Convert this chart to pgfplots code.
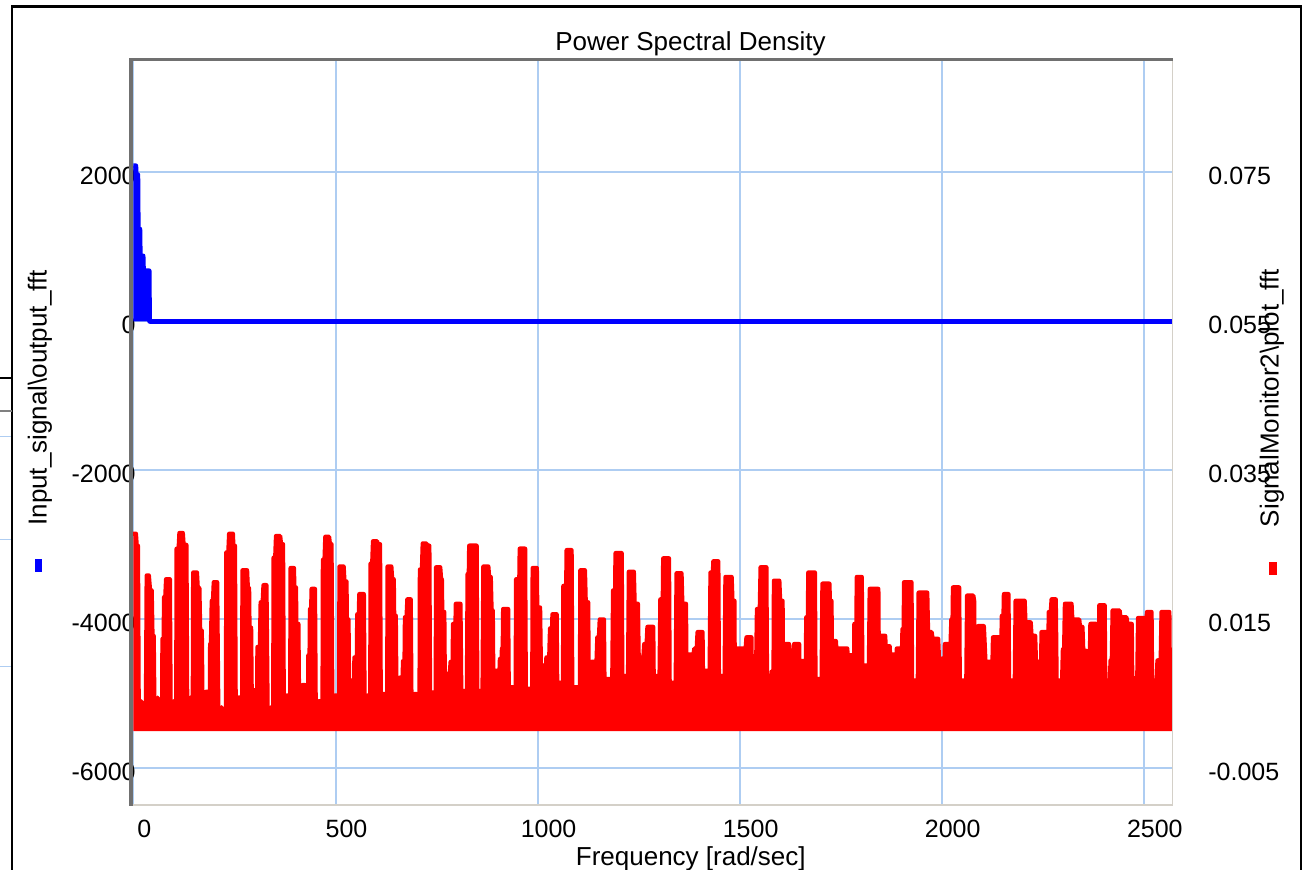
\documentclass[border=0pt]{standalone}
\usepackage{pgfplots}
\pgfplotsset{compat=1.18}
\usepackage{pgfplotstable}
\usepackage{fontspec}
\setmainfont{Liberation Sans}
\definecolor{gridblue}{RGB}{174,205,242}
\definecolor{spinedark}{RGB}{112,112,112}
\definecolor{spinelight}{RGB}{212,208,200}
\definecolor{sigblue}{RGB}{0,0,255}
\definecolor{sigred}{RGB}{255,0,0}

\pgfplotstableread{
x y
0 2090
6 2090
7 1970
11 1970
12 1240
16 1240
17 880
24 880
25 680
39 680
40 0
2575 0
}\bluetable

\pgfplotstableread{
x y
0 0.0265
6 0.0265
8 0.0249
11 0.0249
13 0.0020
16 0.0026
20 0.0040
24 0.0020
28 0.0026
31 0.0020
33 0.0209
38 0.0209
41 0.0189
45 0.0189
47 0.0128
50 0.0128
52 0.0020
56 0.0026
60 0.0045
64 0.0020
67 0.0030
71 0.0020
72 0.0124
75 0.0124
76 0.0180
79 0.0180
81 0.0204
90 0.0204
92 0.0020
95 0.0026
99 0.0040
102 0.0020
105 0.0025
106 0.0020
107 0.0245
112 0.0245
114 0.0266
122 0.0266
124 0.0250
131 0.0250
133 0.0020
137 0.0026
141 0.0045
145 0.0020
147 0.0020
148 0.0213
157 0.0213
159 0.0192
163 0.0192
165 0.0135
169 0.0135
171 0.0020
174 0.0026
177 0.0020
180 0.0053
185 0.0053
187 0.0020
189 0.0020
190 0.0117
192 0.0117
194 0.0175
197 0.0175
199 0.0200
207 0.0200
210 0.0020
214 0.0026
218 0.0032
222 0.0020
226 0.0030
229 0.0020
230 0.0240
235 0.0240
237 0.0265
246 0.0265
247 0.0249
251 0.0249
253 0.0020
256 0.0026
260 0.0045
264 0.0045
267 0.0020
269 0.0020
270 0.0216
281 0.0216
283 0.0192
286 0.0192
287 0.0139
291 0.0139
293 0.0020
296 0.0026
299 0.0055
304 0.0055
306 0.0020
307 0.0113
313 0.0113
315 0.0173
320 0.0173
322 0.0196
329 0.0196
332 0.0020
336 0.0026
340 0.0032
344 0.0020
346 0.0020
347 0.0233
351 0.0233
353 0.0262
363 0.0262
365 0.0251
370 0.0251
372 0.0020
375 0.0026
379 0.0048
383 0.0048
386 0.0020
388 0.0020
389 0.0219
397 0.0219
398 0.0193
402 0.0193
403 0.0144
408 0.0144
410 0.0020
413 0.0026
416 0.0020
419 0.0062
424 0.0062
426 0.0020
432 0.0020
433 0.0102
436 0.0102
437 0.0164
440 0.0164
441 0.0191
449 0.0191
451 0.0020
454 0.0026
458 0.0040
462 0.0040
465 0.0020
468 0.0020
469 0.0230
473 0.0230
475 0.0261
484 0.0261
486 0.0251
490 0.0251
492 0.0020
495 0.0026
499 0.0048
503 0.0048
506 0.0020
509 0.0020
510 0.0221
520 0.0221
522 0.0201
527 0.0201
528 0.0150
532 0.0150
534 0.0020
537 0.0026
539 0.0068
543 0.0068
545 0.0020
547 0.0099
553 0.0099
554 0.0157
558 0.0157
559 0.0184
570 0.0184
572 0.0020
576 0.0026
580 0.0048
583 0.0020
586 0.0020
587 0.0225
591 0.0225
593 0.0255
603 0.0255
604 0.0251
610 0.0251
612 0.0020
615 0.0026
619 0.0050
623 0.0050
626 0.0020
628 0.0020
629 0.0221
638 0.0221
640 0.0204
644 0.0204
645 0.0155
649 0.0155
651 0.0020
654 0.0026
657 0.0020
660 0.0072
664 0.0072
666 0.0020
667 0.0094
671 0.0094
672 0.0153
676 0.0153
678 0.0177
686 0.0177
688 0.0020
692 0.0026
696 0.0050
700 0.0050
703 0.0020
708 0.0020
709 0.0217
714 0.0217
716 0.0252
725 0.0252
726 0.0249
732 0.0249
734 0.0020
737 0.0026
741 0.0052
745 0.0052
748 0.0020
749 0.0220
759 0.0220
761 0.0204
763 0.0204
764 0.0160
769 0.0160
771 0.0020
774 0.0077
783 0.0077
785 0.0093
790 0.0093
791 0.0144
797 0.0144
798 0.0171
809 0.0171
811 0.0054
823 0.0054
825 0.0020
827 0.0211
830 0.0211
831 0.0249
849 0.0249
851 0.0020
853 0.0054
864 0.0054
866 0.0221
878 0.0221
880 0.0207
884 0.0207
886 0.0162
889 0.0162
891 0.0020
892 0.0081
906 0.0081
907 0.0097
911 0.0097
912 0.0111
914 0.0111
915 0.0164
927 0.0164
929 0.0020
931 0.0059
946 0.0059
947 0.0204
955 0.0204
956 0.0245
969 0.0245
971 0.0020
974 0.0057
987 0.0057
988 0.0219
998 0.0219
999 0.0166
1006 0.0166
1008 0.0088
1021 0.0088
1022 0.0099
1029 0.0099
1031 0.0138
1036 0.0138
1037 0.0157
1047 0.0157
1049 0.0020
1051 0.0065
1063 0.0065
1064 0.0195
1071 0.0195
1072 0.0243
1084 0.0243
1086 0.0020
1092 0.0059
1105 0.0059
1106 0.0216
1117 0.0216
1119 0.0173
1125 0.0173
1127 0.0020
1133 0.0093
1146 0.0093
1148 0.0126
1152 0.0126
1154 0.0150
1164 0.0150
1166 0.0020
1170 0.0070
1185 0.0070
1187 0.0189
1192 0.0189
1193 0.0239
1208 0.0239
1210 0.0020
1213 0.0074
1224 0.0074
1226 0.0214
1238 0.0214
1240 0.0171
1248 0.0171
1250 0.0099
1262 0.0099
1264 0.0117
1270 0.0117
1272 0.0140
1286 0.0140
1288 0.0020
1290 0.0074
1302 0.0074
1304 0.0177
1310 0.0177
1311 0.0232
1325 0.0232
1327 0.0020
1331 0.0065
1342 0.0065
1344 0.0212
1356 0.0212
1358 0.0171
1367 0.0171
1369 0.0020
1372 0.0103
1386 0.0103
1388 0.0111
1394 0.0111
1396 0.0133
1408 0.0133
1410 0.0020
1412 0.0081
1426 0.0081
1428 0.0213
1434 0.0213
1435 0.0228
1447 0.0228
1449 0.0020
1451 0.0074
1463 0.0074
1465 0.0207
1480 0.0207
1482 0.0175
1487 0.0175
1488 0.0020
1490 0.0111
1515 0.0111
1517 0.0126
1529 0.0126
1531 0.0020
1532 0.0088
1541 0.0088
1543 0.0164
1550 0.0164
1552 0.0220
1566 0.0220
1568 0.0020
1569 0.0070
1578 0.0070
1580 0.0081
1584 0.0081
1585 0.0202
1598 0.0202
1600 0.0175
1606 0.0175
1608 0.0020
1610 0.0117
1622 0.0117
1623 0.0108
1634 0.0108
1635 0.0117
1647 0.0117
1649 0.0020
1651 0.0094
1664 0.0094
1665 0.0153
1669 0.0153
1670 0.0213
1686 0.0213
1688 0.0020
1690 0.0070
1703 0.0070
1705 0.0198
1722 0.0198
1723 0.0175
1727 0.0175
1728 0.0121
1738 0.0121
1739 0.0111
1766 0.0111
1767 0.0102
1781 0.0102
1783 0.0020
1784 0.0144
1789 0.0144
1790 0.0207
1802 0.0207
1804 0.0020
1807 0.0088
1820 0.0088
1822 0.0191
1843 0.0191
1845 0.0020
1848 0.0128
1860 0.0128
1861 0.0114
1871 0.0114
1872 0.0103
1884 0.0103
1886 0.0020
1889 0.0111
1902 0.0111
1903 0.0137
1906 0.0137
1907 0.0200
1925 0.0200
1927 0.0020
1929 0.0068
1941 0.0068
1943 0.0186
1964 0.0186
1966 0.0133
1975 0.0133
1977 0.0124
1991 0.0124
1993 0.0097
2002 0.0097
2004 0.0020
2008 0.0117
2022 0.0117
2024 0.0150
2027 0.0150
2028 0.0193
2043 0.0193
2045 0.0020
2049 0.0068
2061 0.0068
2063 0.0182
2078 0.0182
2080 0.0175
2082 0.0020
2090 0.0141
2104 0.0141
2106 0.0118
2108 0.0093
2121 0.0093
2123 0.0020
2127 0.0126
2142 0.0126
2144 0.0020
2149 0.0155
2153 0.0155
2154 0.0184
2165 0.0184
2167 0.0020
2169 0.0068
2181 0.0068
2183 0.0175
2205 0.0175
2207 0.0146
2220 0.0146
2222 0.0128
2231 0.0128
2233 0.0093
2243 0.0093
2245 0.0020
2247 0.0133
2259 0.0133
2261 0.0068
2263 0.0068
2265 0.0160
2270 0.0160
2272 0.0177
2282 0.0177
2285 0.0020
2288 0.0068
2298 0.0068
2300 0.0110
2303 0.0110
2305 0.0171
2321 0.0171
2323 0.0150
2340 0.0150
2342 0.0140
2348 0.0140
2350 0.0108
2357 0.0108
2359 0.0020
2360 0.0074
2366 0.0074
2368 0.0144
2381 0.0144
2383 0.0020
2385 0.0068
2388 0.0068
2390 0.0169
2403 0.0169
2405 0.0020
2408 0.0068
2416 0.0068
2418 0.0095
2421 0.0095
2423 0.0162
2440 0.0162
2442 0.0153
2457 0.0153
2459 0.0144
2470 0.0144
2472 0.0020
2474 0.0071
2484 0.0071
2486 0.0152
2500 0.0152
2502 0.0137
2506 0.0137
2508 0.0160
2519 0.0160
2521 0.0020
2524 0.0068
2532 0.0068
2534 0.0095
2542 0.0095
2544 0.0160
2563 0.0160
2565 0.0020
2575 0.0020
}\redtable

\begin{document}
\begin{tikzpicture}[x=0.5pt,y=0.5pt]
\useasboundingbox (0,0) rectangle (1307,870);

% outer window frame fragments
\draw[black, line width=1.3pt] (12,-5) -- (12,863.3) -- (1301,863.3) -- (1301,-5);
\draw[black, line width=1pt] (0,492) -- (12,492);
\draw[gray, line width=1pt] (0,459) -- (12,459);
\draw[gridblue, line width=0.5pt] (0,433) -- (11,433);
\draw[gridblue, line width=0.5pt] (0,330) -- (11,330);
\draw[gridblue, line width=0.5pt] (0,203) -- (11,203);

\begin{axis}[
  at={(65.5pt,32.5pt)}, anchor=south west,
  width=520.75pt, height=372.65pt, scale only axis,
  xmin=-6, xmax=2571, ymin=-6490, ymax=3513,
  xtick={0,500,1000,1500,2000,2500},
  xticklabels={0,500,1000,1500,2000,2500},
  ytick={-6000,-4000,-2000,0,2000},
  yticklabels={-6000,-4000,-2000,0,2000},
  scaled ticks=false,
  major tick length=0pt,
  grid=major, major grid style={gridblue, line width=1pt},
  axis line style={draw=none},
  tick label style={font=\fontsize{12.5}{14}\selectfont},
  xticklabel style={anchor=north, inner sep=0pt, yshift=-7.5pt, xshift=5.5pt},
  yticklabel style={anchor=east, inner sep=0pt, xshift=2.5pt, yshift=-1.5pt},
]
\addplot[draw=none, fill=sigblue] table {\bluetable} \closedcycle;
\addplot[sigblue, line width=2.35pt, line join=round] table {\bluetable};
\end{axis}

\begin{axis}[
  at={(65.5pt,32.5pt)}, anchor=south west,
  width=520.75pt, height=372.65pt, scale only axis,
  xmin=-6, xmax=2571, ymin=-0.0099, ymax=0.09013,
  hide x axis, xtick=\empty,
  xmajorgrids=false, ymajorgrids=false,
  axis y line*=right,
  axis line style={draw=none},
  ytick={-0.005,0.015,0.035,0.055,0.075},
  yticklabels={-0.005,0.015,0.035,0.055,0.075},
  scaled ticks=false,
  major tick length=0pt,
  tick label style={font=\fontsize{12.5}{14}\selectfont},
  yticklabel style={anchor=west, inner sep=0pt, xshift=17.75pt, yshift=-1.5pt},
]
\addplot[draw=none, fill=sigred] table {\redtable} \closedcycle;
\addplot[sigred, line width=2.2pt, line join=round, line cap=round] table {\redtable};
\end{axis}

% spines
\draw[spinelight, line width=0.75pt] (131,65) -- (1172.5,65) -- (1172.5,810.3);
\draw[spinedark, line width=1.6pt] (131,64) -- (131,810.3) -- (1172.5,810.3);

% titles and labels
\node[anchor=base, inner sep=0pt, font=\fontsize{13}{15}\selectfont] at (690.5,819.4) {Power Spectral Density};
\node[anchor=base, inner sep=0pt, font=\fontsize{13}{15}\selectfont] at (690.8,4.5) {Frequency [rad/sec]};
\node[rotate=90, inner sep=0pt, font=\fontsize{13}{15}\selectfont] at (40,472) {Input\_signal\textbackslash output\_fft};
\node[rotate=90, inner sep=0pt, font=\fontsize{13}{15}\selectfont] at (1272,472) {SignalMonitor2\textbackslash plot\_fft};

% legend keys
\fill[sigblue] (35,311) rectangle (42,298);
\fill[sigred] (1269,308) rectangle (1277,295);
\end{tikzpicture}
\end{document}
